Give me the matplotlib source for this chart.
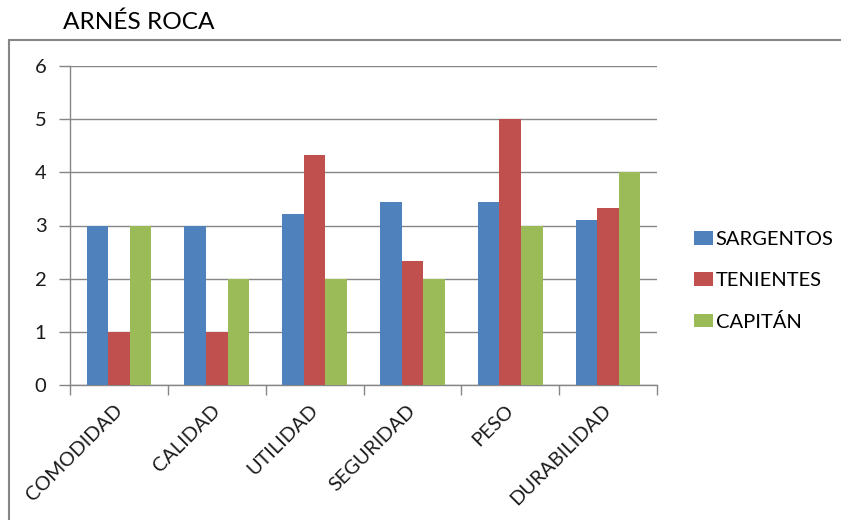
import matplotlib
matplotlib.use("Agg")
import matplotlib.pyplot as plt
import numpy as np
from matplotlib.patches import Rectangle, Patch

plt.rcParams['font.family'] = ['Lato', 'DejaVu Sans']

title = "ARNÉS ROCA"
categories = ["COMODIDAD", "CALIDAD", "UTILIDAD", "SEGURIDAD", "PESO", "DURABILIDAD"]
series_names = ["SARGENTOS", "TENIENTES", "CAPITÁN"]
sargentos = [3.0, 3.0, 3.22, 3.44, 3.44, 3.11]
tenientes = [1.0, 1.0, 4.33, 2.33, 5.0, 3.33]
capitan = [3.0, 2.0, 2.0, 2.0, 3.0, 4.0]
yticks = [0, 1, 2, 3, 4, 5, 6]

colors = ["#4F81BD", "#C0504D", "#9BBB59"]
grid_c = "#868686"

W, H = 841, 520
fig = plt.figure(figsize=(W / 100, H / 100), dpi=100)
ax = fig.add_axes([70 / W, (H - 385) / H, (657 - 70) / W, (385 - 66) / H])

x = np.arange(len(categories))
bw = 0.22
for i, (vals, c) in enumerate(zip([sargentos, tenientes, capitan], colors)):
    ax.bar(x + (i - 1) * bw, vals, width=bw, color=c, zorder=3, linewidth=0)

ax.set_xlim(-0.5, len(categories) - 0.5)
ax.set_ylim(0, 6)
ax.set_yticks(yticks)
ax.set_yticklabels([str(v) for v in yticks], fontsize=14.5, color="#1a1a1a")
ax.yaxis.grid(True, color=grid_c, linewidth=1.0, zorder=0)
ax.set_axisbelow(True)

ax.set_xticks(np.arange(len(categories) + 1) - 0.5)
ax.set_xticklabels([])
ax.tick_params(axis='x', length=7, color=grid_c, width=1)
ax.tick_params(axis='y', length=8, color=grid_c, width=1, pad=9)
for i, cat in enumerate(categories):
    ax.annotate(cat, xy=(i, 0), xycoords=('data', 'axes fraction'),
                xytext=(-4, -12), textcoords='offset points',
                rotation=45, ha='right', va='top', rotation_mode='anchor',
                fontsize=14.3, color="#1a1a1a")

for s in ['top', 'right']:
    ax.spines[s].set_visible(False)
for s in ['left', 'bottom']:
    ax.spines[s].set_color(grid_c)
    ax.spines[s].set_linewidth(1.0)

handles = [Patch(facecolor=c, edgecolor='none') for c in colors]
fig.legend(handles, series_names, loc='center left',
           bbox_to_anchor=(694 / W, (H - 281) / H), frameon=False,
           fontsize=14.5, handlelength=0.95, handleheight=0.65,
           handletextpad=0.12, labelspacing=1.18, borderpad=0, borderaxespad=0)

fig.add_artist(Rectangle((9 / W, -0.2), 2, (H - 40) / H + 0.2,
                         transform=fig.transFigure, fill=False,
                         edgecolor=grid_c, linewidth=1.5))

fig.text(63 / W, (H - 29) / H, title, fontsize=17.6, ha='left',
         va='baseline', color="#000000")

fig.savefig("out.png", dpi=100)
